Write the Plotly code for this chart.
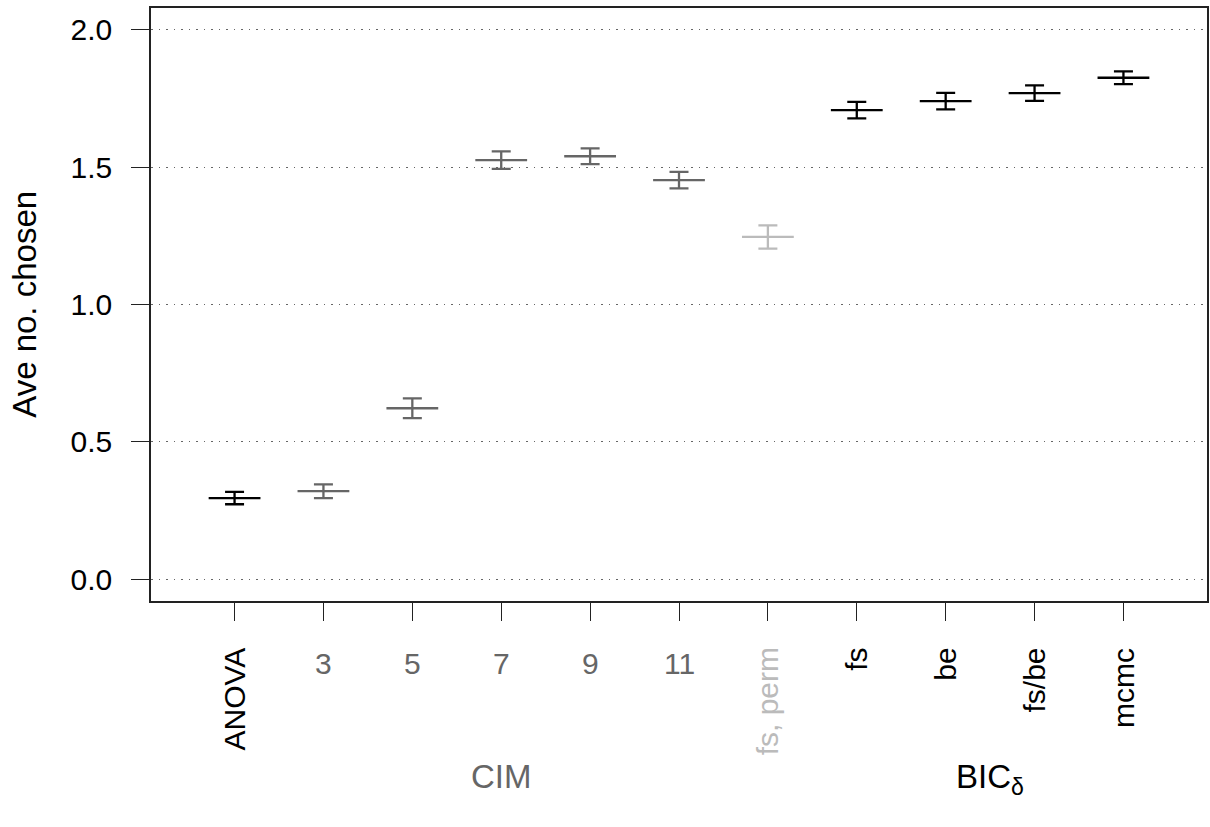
import plotly.graph_objects as go

# ---- data ----
labels = ["ANOVA", "3", "5", "7", "9", "11", "fs, perm", "fs", "be", "fs/be", "mcmc"]
positions = [1, 2, 3, 4, 5, 6, 7, 8, 9, 10, 11]
means = [0.295, 0.320, 0.622, 1.526, 1.540, 1.453, 1.246, 1.708, 1.741, 1.770, 1.826]
errs = [0.0225, 0.025, 0.036, 0.032, 0.029, 0.030, 0.0425, 0.030, 0.030, 0.0285, 0.0235]
groups = ["anova", "cim", "cim", "cim", "cim", "cim", "perm", "bic", "bic", "bic", "bic"]
rotated = [True, False, False, False, False, False, True, True, True, True, True]
group_titles = ["CIM", "BIC<sub>δ</sub>"]
group_centers = [4, 9.5]
yticks = [0.0, 0.5, 1.0, 1.5, 2.0]
y_title = "Ave no. chosen"

# ---- styles ----
colors = {"anova": "#000000", "cim": "#666666", "perm": "#BBBBBB", "bic": "#000000"}
group_title_colors = ["#666666", "#000000"]
FONT = "Liberation Sans, Arial, sans-serif"
FS = 30
FS_TITLE = 33

fig = go.Figure()
for g in ["anova", "cim", "perm", "bic"]:
    idx = [i for i, gg in enumerate(groups) if gg == g]
    fig.add_trace(go.Scatter(
        x=[positions[i] for i in idx],
        y=[means[i] for i in idx],
        mode="markers",
        marker=dict(symbol="line-ew", size=37, color=colors[g],
                    line=dict(width=2.3, color=colors[g])),
        error_y=dict(type="data", array=[errs[i] for i in idx], symmetric=True,
                     color=colors[g], thickness=2.3, width=9.5),
        showlegend=False,
        hoverinfo="skip",
    ))

annotations = []
for pos, lab, g, rot in zip(positions, labels, groups, rotated):
    annotations.append(dict(
        x=pos, xref="x", y=-0.075, yref="paper",
        text=lab, showarrow=False,
        textangle=-90 if rot else 0,
        xanchor="center", yanchor="top",
        font=dict(family=FONT, size=FS, color=colors[g]),
    ))
for t, c, col in zip(group_titles, group_centers, group_title_colors):
    annotations.append(dict(
        x=c, xref="x", y=-0.262, yref="paper",
        text=t, showarrow=False, xanchor="center", yanchor="top",
        font=dict(family=FONT, size=FS_TITLE, color=col),
    ))
annotations.append(dict(
    x=-0.12, xref="paper", y=0.5, yref="paper",
    text=y_title, showarrow=False, textangle=-90,
    xanchor="center", yanchor="middle",
    font=dict(family=FONT, size=FS_TITLE, color="#000000"),
))

fig.update_layout(
    width=1210, height=827,
    margin=dict(l=151, r=1, t=8, b=226),
    paper_bgcolor="white", plot_bgcolor="white",
    font=dict(family=FONT, size=FS, color="#000000"),
    annotations=annotations,
)
fig.update_xaxes(
    range=[0.06, 11.94], tickvals=positions, ticktext=[""] * len(positions),
    ticks="outside", ticklen=18, tickwidth=1.3, tickcolor="#222",
    showline=True, linecolor="#222", linewidth=1.5, mirror=True,
    showgrid=False, zeroline=False,
)
fig.update_yaxes(
    range=[-0.08, 2.08], tickvals=yticks, tickformat=".1f",
    ticks="outside", ticklen=18, tickwidth=1.3, tickcolor="#222",
    ticklabelstandoff=13,
    showline=True, linecolor="#222", linewidth=1.5, mirror=True,
    showgrid=True, gridcolor="#666666", gridwidth=1.3, griddash="1.5px,6px",
    zeroline=False,
    tickfont=dict(family=FONT, size=FS, color="#000000"),
)

fig.write_html("out.html")
